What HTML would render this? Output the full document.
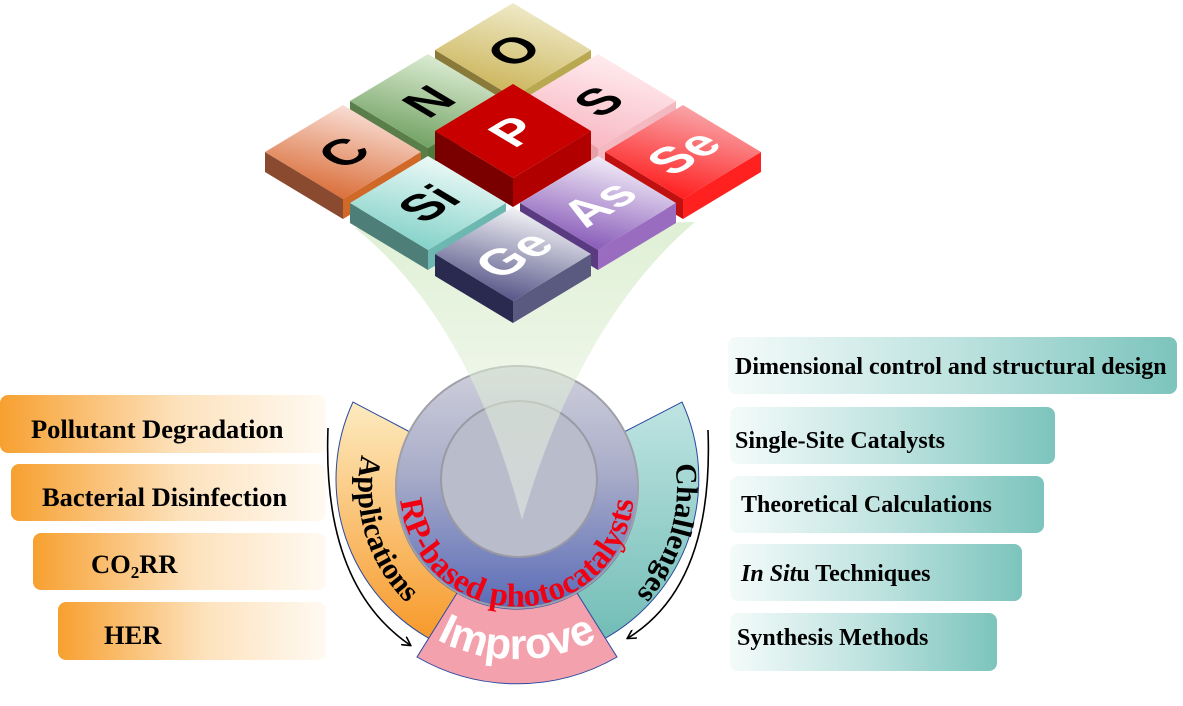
<!DOCTYPE html>
<html><head><meta charset="utf-8"><style>
html,body{margin:0;padding:0;background:#fff;}
svg{display:block;}
.b{font-family:"Liberation Serif",serif;font-weight:bold;font-size:24px;fill:#000;}
.l{font-size:26.5px;}
.t{font-family:"Liberation Sans",sans-serif;font-weight:900;font-size:50px;text-anchor:middle;}
</style></head><body>
<svg width="1183" height="706" viewBox="0 0 1183 706" xmlns="http://www.w3.org/2000/svg">
<defs>
<linearGradient id="org" x1="0" y1="0" x2="1" y2="0"><stop offset="0" stop-color="#f7a030"/><stop offset="0.55" stop-color="#fde2bd"/><stop offset="1" stop-color="#fffaf2"/></linearGradient>
<linearGradient id="tea" x1="0" y1="0" x2="1" y2="0"><stop offset="0" stop-color="#f4fbfa"/><stop offset="0.5" stop-color="#bfe3e0"/><stop offset="1" stop-color="#7cc4bd"/></linearGradient>
<linearGradient id="app" x1="0" y1="0" x2="0" y2="1"><stop offset="0" stop-color="#fdebc0"/><stop offset="1" stop-color="#f7992a"/></linearGradient>
<linearGradient id="cha" x1="0" y1="0" x2="0" y2="1"><stop offset="0" stop-color="#bfe4e2"/><stop offset="1" stop-color="#72bdb6"/></linearGradient>
<linearGradient id="circ" x1="0" y1="0" x2="0" y2="1"><stop offset="0" stop-color="#cfd0dc"/><stop offset="0.45" stop-color="#a8acc8"/><stop offset="1" stop-color="#5a6cb8"/></linearGradient>
<linearGradient id="cone" x1="0" y1="0" x2="0" y2="1"><stop offset="0" stop-color="#cfe8c0" stop-opacity="0.9"/><stop offset="1" stop-color="#eef5e8" stop-opacity="0.6"/></linearGradient>
<linearGradient id="gO" x1="0.7" y1="0" x2="0.3" y2="1"><stop offset="0" stop-color="#f2eed0"/><stop offset="1" stop-color="#c8b050"/></linearGradient>
<linearGradient id="gN" x1="0.7" y1="0" x2="0.3" y2="1"><stop offset="0" stop-color="#e4f2dc"/><stop offset="1" stop-color="#6a9c5a"/></linearGradient>
<linearGradient id="gS" x1="0.7" y1="0" x2="0.3" y2="1"><stop offset="0" stop-color="#fff0f2"/><stop offset="1" stop-color="#f8b4c0"/></linearGradient>
<linearGradient id="gC" x1="0.7" y1="0" x2="0.3" y2="1"><stop offset="0" stop-color="#fbe6e0"/><stop offset="1" stop-color="#d8662e"/></linearGradient>
<linearGradient id="gSe" x1="0.7" y1="0" x2="0.3" y2="1"><stop offset="0" stop-color="#f8b0b4"/><stop offset="1" stop-color="#ff1414"/></linearGradient>
<linearGradient id="gSi" x1="0.7" y1="0" x2="0.3" y2="1"><stop offset="0" stop-color="#f4fcfa"/><stop offset="1" stop-color="#7ccfc6"/></linearGradient>
<linearGradient id="gAs" x1="0.7" y1="0" x2="0.3" y2="1"><stop offset="0" stop-color="#faf6fc"/><stop offset="1" stop-color="#8050b4"/></linearGradient>
<linearGradient id="gGe" x1="0.7" y1="0" x2="0.3" y2="1"><stop offset="0" stop-color="#ffffff"/><stop offset="1" stop-color="#4a4a80"/></linearGradient>
<marker id="ar" markerWidth="10" markerHeight="10" refX="8" refY="5" orient="auto" markerUnits="userSpaceOnUse"><path d="M0,0 L9,5 L0,10" fill="none" stroke="#000" stroke-width="1.6"/></marker>
<path id="pApp" d="M 374 419 A 160 160 0 0 0 437 626"/>
<path id="pCha" d="M 660 416 A 160 160 0 0 1 597 626"/>
<path id="pRP" d="M 402 468 A 117 117 0 1 0 632 468"/>
<path id="pImp" d="M 418 628 A 173 173 0 0 0 616 628"/>
</defs>

<rect x="0" y="395" width="326" height="58" rx="8" fill="url(#org)"/>
<rect x="11" y="464" width="315" height="57" rx="8" fill="url(#org)"/>
<rect x="33" y="533" width="293" height="57" rx="8" fill="url(#org)"/>
<rect x="58" y="602" width="268" height="58" rx="8" fill="url(#org)"/>
<text class="b l" x="31" y="438">Pollutant Degradation</text>
<text class="b l" x="42" y="506">Bacterial Disinfection</text>
<text class="b l" x="91" y="573">CO<tspan font-size="17" dy="5">2</tspan><tspan dy="-5">RR</tspan></text>
<text class="b l" x="104" y="644">HER</text>

<rect x="728" y="337" width="449" height="57" rx="8" fill="url(#tea)"/>
<rect x="730" y="407" width="325" height="57" rx="8" fill="url(#tea)"/>
<rect x="730" y="476" width="314" height="57" rx="8" fill="url(#tea)"/>
<rect x="730" y="544" width="292" height="57" rx="8" fill="url(#tea)"/>
<rect x="730" y="613" width="267" height="58" rx="8" fill="url(#tea)"/>
<text class="b" x="735" y="374">Dimensional control and structural design</text>
<text class="b" x="735" y="448">Single-Site Catalysts</text>
<text class="b" x="741" y="512">Theoretical Calculations</text>
<text class="b" x="741" y="581"><tspan font-style="italic">In Sit</tspan>u Techniques</text>
<text class="b" x="737" y="645">Synthesis Methods</text>

<path d="M 328 428 Q 322 585 410 645" fill="none" stroke="#000" stroke-width="1.6" marker-end="url(#ar)"/>
<path d="M 708 430 Q 714 585 628 638" fill="none" stroke="#000" stroke-width="1.6" marker-end="url(#ar)"/>

<path d="M 353 402 A 183 183 0 0 0 432 640 L 457 593 A 120 120 0 0 1 410 432 Z" fill="url(#app)" stroke="#2a4aa0" stroke-width="1"/>
<path d="M 682 402 A 183 183 0 0 1 602 640 L 577 593 A 120 120 0 0 0 624 432 Z" fill="url(#cha)" stroke="#2a4aa0" stroke-width="1"/>
<path d="M 417 657 A 200 200 0 0 0 617 657 L 577 593 A 120 120 0 0 1 457 593 Z" fill="#f4a1ae" stroke="#2a4aa0" stroke-width="1"/>

<circle cx="517" cy="487" r="121" fill="url(#circ)" stroke="#a0a0a8" stroke-width="2"/>
<circle cx="519" cy="479" r="78" fill="#b9bccb" stroke="#9a9aa4" stroke-width="2"/>

<path d="M 355 228 Q 470 320 522 520 Q 580 320 695 222 Z" fill="url(#cone)" opacity="0.75"/>

<text font-family="Liberation Serif,serif" font-weight="bold" font-size="30" fill="#000"><textPath href="#pApp" startOffset="50%" text-anchor="middle">Applications</textPath></text>
<text font-family="Liberation Serif,serif" font-weight="bold" font-size="30" fill="#000"><textPath href="#pCha" startOffset="50%" text-anchor="middle">Challenges</textPath></text>
<text font-family="Liberation Serif,serif" font-weight="bold" font-size="33" fill="#f00010"><textPath href="#pRP" startOffset="50%" text-anchor="middle">RP-based  photocatalysts</textPath></text>
<text font-family="Liberation Sans,sans-serif" font-weight="900" font-size="43" fill="#fff"><textPath href="#pImp" startOffset="50%" text-anchor="middle">Improve</textPath></text>

<g><polygon points="435,50 513,97 513,115 435,68" fill="#8a7a3a"/><polygon points="513,97 591,50 591,68 513,115" fill="#b8a850"/><polygon points="513,3 591,50 513,97 435,50" fill="url(#gO)"/>
<text class="t" fill="#000" transform="matrix(0.857,-0.514,0.857,0.514,513,50)" y="18">O</text></g>
<g><polygon points="350,101 428,148 428,166 350,119" fill="#5a7e4a"/><polygon points="428,148 506,101 506,119 428,166" fill="#4e7a3c"/><polygon points="428,54 506,101 428,148 350,101" fill="url(#gN)"/>
<text class="t" fill="#000" transform="matrix(0.857,-0.514,0.857,0.514,428,101)" y="18">N</text></g>
<g><polygon points="520,101 598,148 598,166 520,119" fill="#e8a0a8"/><polygon points="598,148 676,101 676,119 598,166" fill="#f4b8c0"/><polygon points="598,54 676,101 598,148 520,101" fill="url(#gS)"/>
<text class="t" fill="#000" transform="matrix(0.857,-0.514,0.857,0.514,598,101)" y="18">S</text></g>
<g><polygon points="265,152 343,199 343,219 265,172" fill="#8a4a30"/><polygon points="343,199 421,152 421,172 343,219" fill="#d06828"/><polygon points="343,105 421,152 343,199 265,152" fill="url(#gC)"/>
<text class="t" fill="#000" transform="matrix(0.857,-0.514,0.857,0.514,343,152)" y="18">C</text></g>
<g><polygon points="605,152 683,199 683,219 605,172" fill="#c01010"/><polygon points="683,199 761,152 761,172 683,219" fill="#ff2020"/><polygon points="683,105 761,152 683,199 605,152" fill="url(#gSe)"/>
<text class="t" fill="#fff" transform="matrix(0.857,-0.514,0.857,0.514,683,152)" y="18">Se</text></g>
<g><polygon points="350,203 428,250 428,270 350,223" fill="#4e7e78"/><polygon points="428,250 506,203 506,223 428,270" fill="#6cb8b0"/><polygon points="428,156 506,203 428,250 350,203" fill="url(#gSi)"/>
<text class="t" fill="#000" transform="matrix(0.857,-0.514,0.857,0.514,428,203)" y="18">Si</text></g>
<g><polygon points="520,203 598,250 598,270 520,223" fill="#5a3a80"/><polygon points="598,250 676,203 676,223 598,270" fill="#9a6cc0"/><polygon points="598,156 676,203 598,250 520,203" fill="url(#gAs)"/>
<text class="t" fill="#fff" transform="matrix(0.857,-0.514,0.857,0.514,598,203)" y="18">As</text></g>
<g><polygon points="435,131 513,178 513,207 435,160" fill="#7a0000"/><polygon points="513,178 591,131 591,160 513,207" fill="#b00000"/><polygon points="513,84 591,131 513,178 435,131" fill="#c80000"/>
<text class="t" fill="#fff" transform="matrix(0.857,-0.514,0.857,0.514,513,131)" y="18">P</text></g>
<g><polygon points="435,254 513,301 513,323 435,276" fill="#2a2a50"/><polygon points="513,301 591,254 591,276 513,323" fill="#5a5a80"/><polygon points="513,207 591,254 513,301 435,254" fill="url(#gGe)"/>
<text class="t" fill="#fff" transform="matrix(0.857,-0.514,0.857,0.514,513,254)" y="18">Ge</text></g>
</svg>
</body></html>
